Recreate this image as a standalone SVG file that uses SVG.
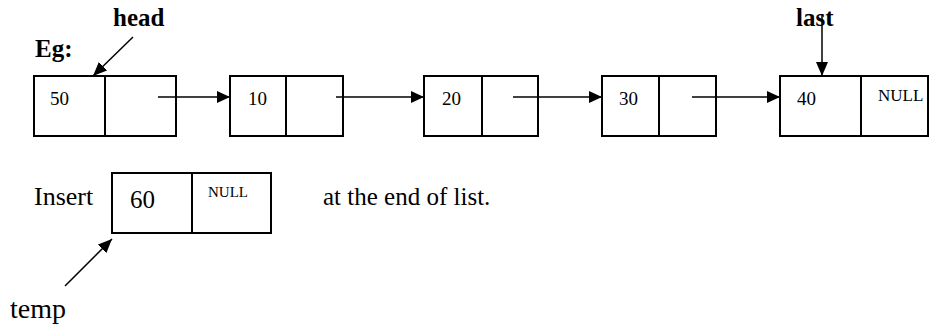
<svg xmlns="http://www.w3.org/2000/svg" width="930" height="328" viewBox="0 0 930 328">
<style>
.box{fill:#fff;stroke:#000;stroke-width:2}
.div{stroke:#000;stroke-width:2}
.lnk{stroke:#000;stroke-width:1.5;fill:none}
.t{font-family:"Liberation Serif","Times New Roman",serif;fill:#000}
.num{font-size:19px}
.nul{font-size:17px}
.b{font-size:25px;font-weight:bold}
.big{font-size:25px}
</style>
<defs>
<marker id="ah" markerWidth="13" markerHeight="12" refX="13" refY="6" orient="auto" markerUnits="userSpaceOnUse" viewBox="0 0 13 12">
<path d="M0,0 L13,6 L0,12 z" fill="#000"/>
</marker>
<marker id="ah2" markerWidth="14" markerHeight="12" refX="14" refY="6" orient="auto" markerUnits="userSpaceOnUse" viewBox="0 0 14 12">
<path d="M0,0 L14,6 L0,12 z" fill="#000"/>
</marker>
</defs>
<text class="t b" x="35" y="57">Eg:</text>
<text class="t b" x="113" y="26">head</text>
<text class="t b" x="796" y="26">last</text>
<g id="n50"><rect class="box" x="34" y="76" width="142" height="60"/><line class="div" x1="105" y1="76" x2="105" y2="136"/><text class="t num" x="50" y="105">50</text></g>
<g id="n10"><rect class="box" x="230" y="76" width="113" height="60"/><line class="div" x1="286" y1="76" x2="286" y2="136"/><text class="t num" x="248" y="105">10</text></g>
<g id="n20"><rect class="box" x="424" y="76" width="114" height="60"/><line class="div" x1="482" y1="76" x2="482" y2="136"/><text class="t num" x="442" y="105">20</text></g>
<g id="n30"><rect class="box" x="602" y="76" width="114" height="60"/><line class="div" x1="659" y1="76" x2="659" y2="136"/><text class="t num" x="619" y="105">30</text></g>
<g id="n40"><rect class="box" x="780" y="76" width="148" height="60"/><line class="div" x1="861" y1="76" x2="861" y2="136"/><text class="t num" x="797" y="105">40</text><text class="t nul" x="878" y="101">NULL</text></g>
<g id="n60"><rect class="box" x="112" y="173" width="159" height="60"/><line class="div" x1="192" y1="173" x2="192" y2="233"/><text class="t big" x="130" y="208">60</text><text class="t" font-size="15" x="208" y="197">NULL</text></g>
<text class="t" font-size="26" x="34" y="205">Insert</text>
<text class="t" font-size="25" x="323" y="205">at the end of list.</text>
<text class="t" font-size="28" x="10" y="318">temp</text>
<g id="connectors">
<line class="lnk" x1="158" y1="97" x2="230" y2="97" marker-end="url(#ah)"/>
<line class="lnk" x1="336" y1="97" x2="424" y2="97" marker-end="url(#ah)"/>
<line class="lnk" x1="513" y1="97" x2="602" y2="97" marker-end="url(#ah)"/>
<line class="lnk" x1="692" y1="97" x2="780" y2="97" marker-end="url(#ah)"/>
<line class="lnk" x1="822" y1="14" x2="822" y2="76" marker-end="url(#ah2)"/>
<line class="lnk" x1="133" y1="37" x2="93" y2="76" marker-end="url(#ah2)"/>
<line class="lnk" x1="65" y1="286" x2="112" y2="239" marker-end="url(#ah2)"/>
</g>
</svg>
